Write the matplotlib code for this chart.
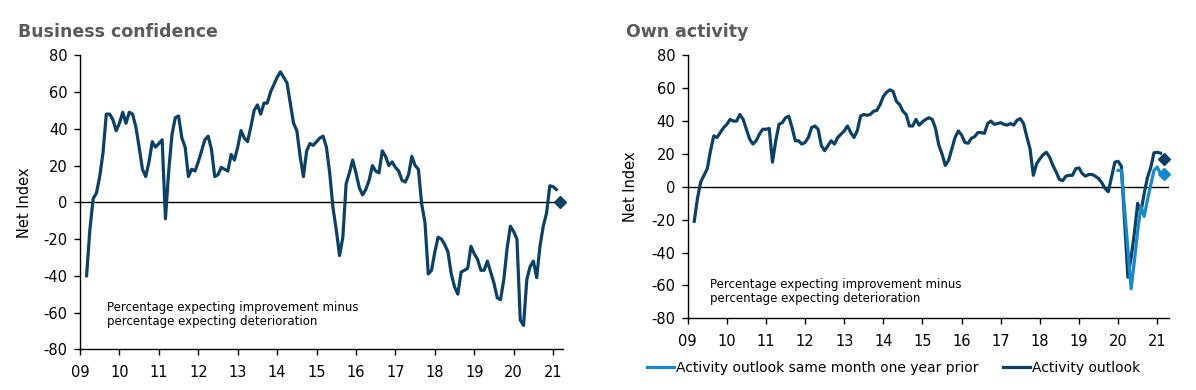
import numpy             as np
import pandas            as pd
import matplotlib
matplotlib.use('Agg')
import matplotlib.pyplot as plt

############################
# Data (monthly, net index)
############################

# Business confidence, Mar 2009 - Feb 2021
BC_START  = '2009-03'
bc_values = [
  -40, -15, 2, 5, 14, 27, 48, 48, 45, 39,                      # 2009
  43, 49, 43, 49, 48, 41, 30, 18, 14, 22, 33, 30,              # 2010
  32, 34, -9, 17, 37, 46, 47, 35, 30, 14, 18, 17,              # 2011
  22, 28, 34, 36, 29, 14, 15, 19, 18, 17, 26, 23,              # 2012
  30, 39, 35, 33, 41, 50, 53, 48, 54, 54, 60, 64,              # 2013
  68, 71, 68, 65, 54, 43, 39, 25, 14, 28, 32, 31,              # 2014
  33, 35, 36, 30, 16, -3, -15, -29, -19, 10, 16, 23,           # 2015
  16, 8, 4, 7, 12, 20, 17, 16, 28, 25, 20, 22,                 # 2016
  19, 17, 12, 11, 15, 25, 20, 18, -1, -11, -39, -37,           # 2017
  -27, -19, -20, -23, -27, -39, -46, -50, -38, -37, -36, -24,  # 2018
  -28, -31, -37, -37, -32, -38, -44, -52, -53, -42, -25, -13,  # 2019
  -16, -20, -64, -67, -42, -35, -32, -41, -24, -13, -6, 9,     # 2020
  8.5, 7,                                                      # 2021
]
bc_forecast_date  = '2021-03'
bc_forecast_value = 0

# Own activity outlook, Mar 2009 - Feb 2021
OA_START  = '2009-03'
oa_values = [
  -21, -7, 3, 7, 11, 22, 31, 30, 33, 36,                       # 2009
  38, 41, 40, 40, 44, 41, 35, 29, 26, 28, 32, 35,              # 2010
  35, 35.5, 15, 28, 38, 39, 42, 43, 36, 28, 28, 26,            # 2011
  27, 30, 36, 37, 35, 25, 22, 25, 28, 26, 30, 32,              # 2012
  34, 37, 33, 30, 34, 43, 44, 43.5, 44, 46, 46.5, 50,          # 2013
  55, 57.5, 59, 58, 52, 50, 46, 44, 37, 37, 41, 37.5,          # 2014
  39.5, 41, 42, 41, 35.5, 25.5, 20, 13, 16, 23, 30, 34,        # 2015
  31.5, 27, 26.5, 29.5, 30.5, 33, 33, 32.5, 38.5, 40, 38, 38.5,  # 2016
  39, 38, 37.5, 38.5, 37.5, 40.5, 41.5, 38.5, 30.5, 23, 7, 14, # 2017
  17, 19.5, 21, 18, 13, 9, 4.5, 3.7, 6.5, 7, 7, 11,            # 2018
  11.5, 8, 6.5, 7.5, 7.5, 6.5, 5, 2.5, -1, -3, 6, 15,          # 2019
  15.5, 12.5, -21, -55, -43, -28, -10, -15.5, -4, 5.6, 11.7, 20.7,  # 2020
  21, 20.5,                                                    # 2021
]
oa_forecast_date  = '2021-03'
oa_forecast_value = 17

# Activity outlook same month one year prior, Jan 2020 - Feb 2021
PRIOR_START  = '2020-01'
prior_values = [10, 10, -14, -38, -62, -45, -27, -12, -18, -8, 1, 10, 12, 8]
prior_forecast_date  = '2021-03'
prior_forecast_value = 7.5

YEAR_TICKS  = list(range(2009, 2022))
YEAR_LABELS = ['%02d' % (y % 100) for y in YEAR_TICKS]
Y_TICKS     = list(range(-80, 81, 20))

NOTE = 'Percentage expecting improvement minus\npercentage expecting deterioration'

DARK  = '#0c4064'
LIGHT = '#1789cb'
TITLE = '#5a5a5a'


def to_years(start, n):
  d = pd.date_range(start, periods = n, freq = 'MS')
  return d.year + (d.month - 1) / 12.0


def to_year(date):
  d = pd.Timestamp(date)
  return d.year + (d.month - 1) / 12.0


def style_axes(ax, xmax, ymin):
  ax.set_xlim(2009, xmax)
  ax.set_ylim(ymin, 80)
  ax.set_xticks(YEAR_TICKS)
  ax.set_xticklabels(YEAR_LABELS)
  ax.set_yticks([t for t in Y_TICKS if t >= ymin])
  ax.spines['top'].set_visible(False)
  ax.spines['right'].set_visible(False)
  ax.spines['left'].set_linewidth(1.0)
  ax.spines['bottom'].set_linewidth(1.0)
  ax.tick_params(axis = 'y', direction = 'out', length = 4, width = 1, labelsize = 10.5, pad = 5)
  ax.tick_params(axis = 'x', direction = 'out', length = 4, width = 1, labelsize = 10.5, pad = 7)
  ax.axhline(0, color = 'black', linewidth = 1.0, zorder = 1)
  ax.set_ylabel('Net Index', fontsize = 10.5)


plt.rcParams['font.family']        = ['DejaVu Sans']
plt.rcParams['axes.unicode_minus'] = False

fig = plt.figure(figsize = (11.96, 3.9), dpi = 100)

#############################
# Business confidence       #
#############################
ax1 = fig.add_axes([0.0669, 0.1044, 0.4038, 0.7538])
style_axes(ax1, 2021.25, -80)
ax1.plot(to_years(BC_START, len(bc_values)), bc_values,
         color = DARK, linewidth = 2.3, solid_joinstyle = 'round', zorder = 3)
ax1.plot([to_year(bc_forecast_date)], [bc_forecast_value], marker = 'D',
         markersize = 6, color = DARK, linestyle = 'none', zorder = 4, clip_on = False)
ax1.yaxis.set_label_coords(-0.1, 0.5)
ax1.text(0.056, 0.165, NOTE, transform = ax1.transAxes, fontsize = 8.5,
         va = 'top', ha = 'left', linespacing = 1.1)

#############################
# Own activity              #
#############################
ax2 = fig.add_axes([0.575, 0.1838, 0.4024, 0.6744])
style_axes(ax2, 2021.3, -80)
ax2.plot(to_years(OA_START, len(oa_values)), oa_values,
         color = DARK, linewidth = 2.3, solid_joinstyle = 'round', zorder = 3,
         label = 'Activity outlook')
ax2.plot(to_years(PRIOR_START, len(prior_values)), prior_values,
         color = LIGHT, linewidth = 2.3, solid_joinstyle = 'round', zorder = 4,
         label = 'Activity outlook same month one year prior')
ax2.plot([to_year(oa_forecast_date)], [oa_forecast_value], marker = 'D',
         markersize = 6, color = DARK, linestyle = 'none', zorder = 5, clip_on = False)
ax2.plot([to_year(prior_forecast_date)], [prior_forecast_value], marker = 'D',
         markersize = 6, color = LIGHT, linestyle = 'none', zorder = 5, clip_on = False)
ax2.yaxis.set_label_coords(-0.103, 0.5)
ax2.text(0.046, 0.153, NOTE, transform = ax2.transAxes, fontsize = 8.5,
         va = 'top', ha = 'left', linespacing = 1.1)

handles, labels = ax2.get_legend_handles_labels()
fig.legend(handles[::-1], labels[::-1],
           loc            = 'center left',
           bbox_to_anchor = (0.536, 0.056),
           ncol           = 2,
           frameon        = False,
           fontsize       = 10,
           handlelength   = 2.0,
           handletextpad  = 0.1,
           columnspacing  = 1.75,
           borderaxespad  = 0)

#############################
# Titles                    #
#############################
fig.text(0.015, 0.918, 'Business confidence', fontsize = 12.5, fontweight = 'bold',
         color = TITLE, va = 'center', ha = 'left')
fig.text(0.523, 0.918, 'Own activity', fontsize = 12.5, fontweight = 'bold',
         color = TITLE, va = 'center', ha = 'left')

fig.savefig('out.png', dpi = 100)
